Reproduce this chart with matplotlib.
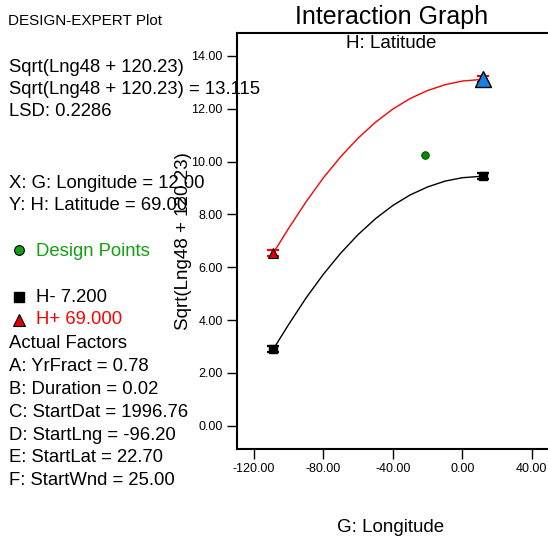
import numpy as np
import matplotlib
matplotlib.use("Agg")
import matplotlib.pyplot as plt
from matplotlib.lines import Line2D

plt.rcParams['font.family'] = ['Liberation Sans', 'DejaVu Sans']

# values
longitude = [-109, -100, -90, -80, -70, -60, -50, -40, -30, -20, -10, 0, 12]
lat_high = [6.53, 7.48, 8.48, 9.39, 10.19, 10.89, 11.49, 11.99, 12.39, 12.69, 12.91, 13.05, 13.115]
lat_low = [2.89, 3.84, 4.84, 5.74, 6.54, 7.24, 7.84, 8.34, 8.74, 9.04, 9.26, 9.39, 9.45]
design_x = [-21.5]
design_y = [10.24]
lsd = 0.2286
yticks = [0, 2, 4, 6, 8, 10, 12, 14]
xticks = [-120, -80, -40, 0, 40]

W, H = 548, 541
fig = plt.figure(figsize=(W / 100, H / 100), dpi=100)


def fx(x):
    return x / W


def fy(y):
    return 1 - y / H


# main axes (right edge runs off the canvas like the reference)
ax = fig.add_axes([fx(236.7), fy(449.3), 1.01 - fx(236.7), (449.3 - 32.7) / H])
ax.set_xlim(-130, -130 + (1.01 * W - 236.7) / 1.735)
ax.set_ylim(-0.89, 14.88)

ax.plot(longitude, lat_high, color='red', lw=1.0, zorder=2)
ax.plot(longitude, lat_low, color='black', lw=1.0, zorder=2)

# LSD bars at the ends of each line
ends = [0, -1]
ax.errorbar([longitude[i] for i in ends], [lat_high[i] for i in ends], yerr=lsd / 2,
            fmt='none', ecolor='red', elinewidth=1.2, capsize=4.5, capthick=1.6, zorder=3)
ax.errorbar([longitude[i] for i in ends], [lat_low[i] for i in ends], yerr=lsd / 2,
            fmt='none', ecolor='black', elinewidth=1.2, capsize=4.5, capthick=1.6, zorder=3)

ax.plot([longitude[i] for i in ends], [lat_low[i] for i in ends], 's', color='black',
        ms=6, zorder=4)
ax.plot(longitude[0], lat_high[0], '^', color='#e00000', mec='black', mew=0.8, ms=7, zorder=4)
ax.plot(longitude[-1], lat_high[-1], '^', color='#1a7fe0', mec='black', mew=1.0, ms=12, zorder=5)
ax.plot(design_x, design_y, 'o', color='#008a00', mec='#004000', mew=0.6, ms=5.5, zorder=4)

ax.set_xticks(xticks)
ax.set_xticklabels(['%.2f' % v for v in xticks])
ax.set_yticks(yticks)
ax.set_yticklabels(['%.2f' % v for v in yticks])
ax.tick_params(direction='out', length=7, width=1, labelsize=9, pad=3)
for side in ['left', 'bottom', 'top', 'right']:
    ax.spines[side].set_linewidth(1.5)

# titles and axis labels
fig.text(fx(392), fy(17), 'Interaction Graph', fontsize=18, ha='center', va='center')
fig.text(fx(391), fy(43), 'H: Latitude', fontsize=13.5, ha='center', va='center')
fig.text(fx(391), fy(528), 'G: Longitude', fontsize=13.5, ha='center', va='center')
fig.text(fx(183), fy(241), 'Sqrt(Lng48 + 120.23)', fontsize=13.5, rotation=90,
         ha='center', va='center')

# left info panel
fig.text(fx(8), fy(21), 'DESIGN-EXPERT Plot', fontsize=11, va='center')
info = [
    (67, 'Sqrt(Lng48 + 120.23)'),
    (90, 'Sqrt(Lng48 + 120.23) = 13.115'),
    (112, 'LSD: 0.2286'),
    (183, 'X: G: Longitude = 12.00'),
    (205, 'Y: H: Latitude = 69.00'),
    (343, 'Actual Factors'),
    (366.7, 'A: YrFract = 0.78'),
    (389.3, 'B: Duration = 0.02'),
    (412.3, 'C: StartDat = 1996.76'),
    (435, 'D: StartLng = -96.20'),
    (457.7, 'E: StartLat = 22.70'),
    (480.7, 'F: StartWnd = 25.00'),
]
for y, s in info:
    fig.text(fx(9), fy(y), s, fontsize=13.3, va='center')

fig.text(fx(36), fy(251), 'Design Points', fontsize=13.3, va='center', color='#10a010')
fig.text(fx(36), fy(297), 'H- 7.200', fontsize=13.3, va='center', color='black')
fig.text(fx(36), fy(320), 'H+ 69.000', fontsize=13.3, va='center', color='red')

fig.add_artist(Line2D([fx(19)], [fy(250)], marker='o', color='#10a010', mec='black',
                      mew=0.8, ms=7, transform=fig.transFigure))
fig.add_artist(Line2D([fx(19)], [fy(297)], marker='s', color='black', ms=6.5,
                      transform=fig.transFigure))
fig.add_artist(Line2D([fx(19)], [fy(320)], marker='^', color='#e00000', mec='black',
                      mew=0.8, ms=8, transform=fig.transFigure))

fig.savefig('out.png', dpi=100)
